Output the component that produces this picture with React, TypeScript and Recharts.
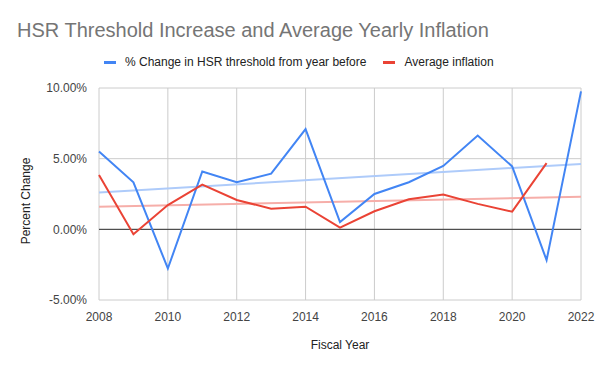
import React from 'react';
import { LineChart, Line, XAxis, YAxis, CartesianGrid, ReferenceLine } from 'recharts';

const years = [2008, 2009, 2010, 2011, 2012, 2013, 2014, 2015, 2016, 2017, 2018, 2019, 2020, 2021, 2022];
const thresholdChange = [5.5, 3.33, -2.77, 4.09, 3.33, 3.94, 7.09, 0.52, 2.5, 3.33, 4.49, 6.64, 4.45, -2.18, 9.76];
const avgInflation: (number | null)[] = [3.85, -0.35, 1.72, 3.16, 2.08, 1.46, 1.6, 0.12, 1.28, 2.13, 2.46, 1.8, 1.25, 4.68, null];

// trendline endpoints (as drawn in the source chart)
const trendYears = [2008, 2022];
const thresholdTrend = [2.6, 4.63];
const inflationTrend = [1.6, 2.31];

const xTicks = [2008, 2010, 2012, 2014, 2016, 2018, 2020, 2022];
const yTicks = [-5, 0, 5, 10];

const data = years.map((year, i) => ({
  year,
  threshold: thresholdChange[i],
  inflation: avgInflation[i],
}));

const FONT = 'Arial, "Liberation Sans", sans-serif';

const App: React.FC = () => {
  return (
    <div style={{ position: 'absolute', left: 0, top: 0, width: 600, height: 371, background: '#fff', fontFamily: FONT }}>
      <div style={{ position: 'absolute', left: 17, top: 19, fontSize: 20, color: '#757575', whiteSpace: 'nowrap' }}>
        HSR Threshold Increase and Average Yearly Inflation
      </div>
      <div style={{ position: 'absolute', left: 104, top: 55, display: 'flex', fontSize: 12, color: '#222', whiteSpace: 'nowrap' }}>
        <span style={{ display: 'flex', alignItems: 'center', marginRight: 17 }}>
          <span style={{ width: 12, height: 3, background: '#4285f4', marginRight: 9, display: 'inline-block' }} />
          % Change in HSR threshold from year before
        </span>
        <span style={{ display: 'flex', alignItems: 'center' }}>
          <span style={{ width: 12, height: 3, background: '#ea4335', marginRight: 9, display: 'inline-block' }} />
          Average inflation
        </span>
      </div>
      <LineChart width={600} height={371} data={data} margin={{ top: 88, right: 19, bottom: 0, left: 0 }}>
        <CartesianGrid stroke="#cccccc" />
        <XAxis
          dataKey="year"
          type="number"
          domain={[2008, 2022]}
          ticks={xTicks}
          axisLine={false}
          tickLine={false}
          height={71}
          tick={{ fontSize: 12, fill: '#444', fontFamily: FONT }}
          tickMargin={6}
          label={{ value: 'Fiscal Year', position: 'insideBottom', offset: 22, fontSize: 12, fill: '#222', fontFamily: FONT }}
        />
        <YAxis
          type="number"
          domain={[-5, 10]}
          ticks={yTicks}
          axisLine={false}
          tickLine={false}
          width={99}
          tickFormatter={(v: number) => `${v.toFixed(2)}%`}
          tick={{ fontSize: 12, fill: '#444', fontFamily: FONT }}
          tickMargin={6}
          label={{ value: 'Percent Change', angle: -90, position: 'insideLeft', offset: 26, dy: 7, textAnchor: 'middle', fontSize: 12, fill: '#222', fontFamily: FONT }}
        />
        <ReferenceLine y={0} stroke="#333333" strokeWidth={1} />
        <ReferenceLine
          segment={[{ x: trendYears[0], y: thresholdTrend[0] }, { x: trendYears[1], y: thresholdTrend[1] }]}
          stroke="#aecbfa"
          strokeWidth={2}
        />
        <ReferenceLine
          segment={[{ x: trendYears[0], y: inflationTrend[0] }, { x: trendYears[1], y: inflationTrend[1] }]}
          stroke="#f6aea9"
          strokeWidth={2}
        />
        <Line type="linear" dataKey="threshold" stroke="#4285f4" strokeWidth={2} dot={false} isAnimationActive={false} />
        <Line type="linear" dataKey="inflation" stroke="#ea4335" strokeWidth={2} dot={false} isAnimationActive={false} />
      </LineChart>
    </div>
  );
};

export default App;
